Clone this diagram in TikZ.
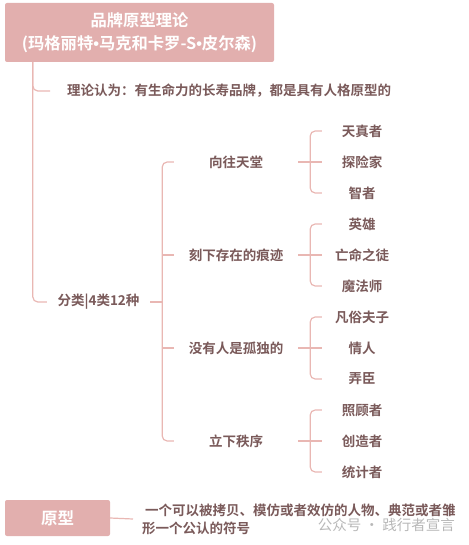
\documentclass[tikz,border=0pt]{standalone}
\usepackage{fontspec}
\setmainfont{Noto Sans CJK SC}[BoldFont={Noto Sans CJK SC Bold}]
\newfontfamily\dotfont{Liberation Sans}
\usetikzlibrary{calc}
\definecolor{boxpink}{HTML}{E2AFAE}
\definecolor{linkpink}{HTML}{E9B7B3}
\definecolor{inkbrown}{HTML}{7A5A5A}
\definecolor{markgray}{HTML}{B8B8B8}
\newcommand{\dotsep}{{\dotfont\bfseries •}}

\begin{document}
\begin{tikzpicture}[x=1pt, y=-1pt,
  link/.style={draw=linkpink, line width=1.2pt, rounded corners=5pt},
  headbox/.style={fill=boxpink, text=white, rounded corners=2pt, align=center,
    font=\bfseries\fontsize{16.3}{23}\selectfont},
  txt/.style={text=inkbrown, inner sep=0pt, font=\bfseries\fontsize{13.5}{18}\selectfont},
  grp/.style={txt, minimum width=124pt, minimum height=16pt},
  leaf/.style={txt, minimum width=80pt, minimum height=16pt}]
\useasboundingbox (0,0) rectangle (468,545);
% Title and the trunk below it
\node[headbox, minimum width=269pt, minimum height=59pt] (root) at (139.5,32.5)
  {品牌原型理论\\(玛格丽特\dotsep 马克和卡罗-S\dotsep 皮尔森)};
\coordinate (trunk) at ([xshift=28pt]root.south west);
\node[txt, anchor=west] (intro) at (67,91) {理论认为：有生命力的长寿品牌，都是具有人格原型的};
\node[txt, minimum width=103pt, minimum height=16pt] (cat) at (98.5,302) {分类|4类12种};
\draw[link] (trunk) |- ([xshift=-17pt]intro.west);
\draw[link] (trunk) |- (cat.west);
% Four groups, three archetypes each
\coordinate (catfork) at ([xshift=12pt]cat.east);
\draw[link] (cat.east) -- (catfork);
\foreach \i/\y/\lab/\ka/\kb/\kc in {
  1/162/向往天堂/天真者/探险家/智者,
  2/255/刻下存在的痕迹/英雄/亡命之徒/魔法师,
  3/348/没有人是孤独的/凡俗夫子/情人/弄臣,
  4/441/立下秩序/照顾者/创造者/统计者} {
  \node[grp] (g\i) at (236,\y) {\lab};
  \node[leaf] (g\i-a) at (362,\y-31) {\ka};
  \node[leaf] (g\i-b) at (362,\y) {\kb};
  \node[leaf] (g\i-c) at (362,\y+31) {\kc};
  \draw[link] (g\i-a.west) -| ([xshift=12pt]g\i.east) |- (g\i-c.west);
  \draw[link] (g\i.east) -- (g\i-b.west);
}
\draw[link] (g1.west) -| (catfork) |- (g4.west);
\draw[link] (catfork |- g2.west) -- (g2.west);
\draw[link] (catfork |- g3.west) -- (g3.west);
% Definition at the bottom
\node[headbox, minimum width=105pt, minimum height=36pt,
  font=\bfseries\fontsize{16.5}{20}\selectfont] (proto) at (57.5,518) {原型};
\node[txt, anchor=west, align=left] (def) at (142,519)
  {\hspace{3pt}一个可以被拷贝、模仿或者效仿的人物、典范或者雏\\形一个公认的符号};
\draw[link] (proto.east) -- ([xshift=-9pt]def.west);
\node[text=markgray, inner sep=0pt, anchor=east, font=\fontsize{14.5}{16}\selectfont]
  (mark) at (455,525) {公众号 · 践行者宣言};
\end{tikzpicture}
\end{document}
